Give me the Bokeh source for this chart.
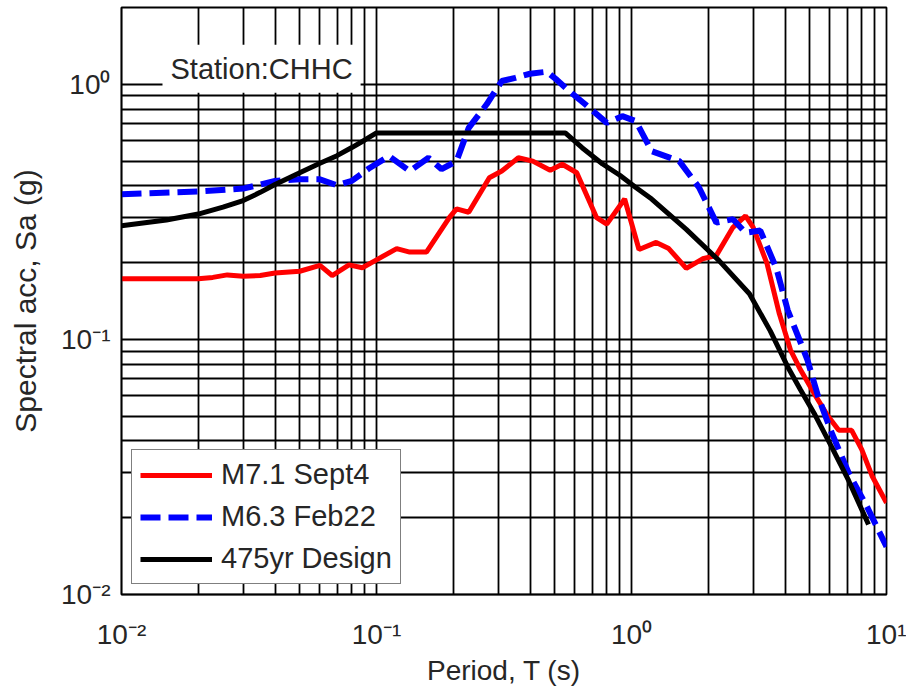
from bokeh.plotting import figure
from bokeh.models import (FixedTicker, CustomJSTickFormatter, Label, Legend,
                          LegendItem, Range1d)
from bokeh.embed import file_html
from bokeh.resources import INLINE

# ---- data ----
T_sept4 = [0.01, 0.02, 0.0228, 0.026, 0.03, 0.035, 0.04, 0.05, 0.06, 0.067, 0.078,
           0.088, 0.1, 0.12, 0.135, 0.157, 0.193, 0.206, 0.23, 0.277, 0.31, 0.36,
           0.41, 0.48, 0.535, 0.61, 0.73, 0.8, 0.94, 1.07, 1.25, 1.4, 1.64, 1.9,
           2.15, 2.5, 2.8, 3.0, 3.4, 3.8, 4.2, 4.6, 5.3, 5.9, 6.5, 7.3, 8.0, 8.8, 10.0]
Sa_sept4 = [0.173, 0.173, 0.175, 0.179, 0.177, 0.178, 0.182, 0.185, 0.195, 0.178, 0.196,
            0.191, 0.205, 0.227, 0.22, 0.22, 0.30, 0.325, 0.315, 0.43, 0.457, 0.515,
            0.50, 0.46, 0.486, 0.45, 0.30, 0.283, 0.355, 0.225, 0.24, 0.227, 0.19, 0.207,
            0.213, 0.275, 0.305, 0.275, 0.198, 0.126, 0.091, 0.076, 0.0595, 0.05, 0.044,
            0.044, 0.037, 0.029, 0.0229]

T_feb22 = [0.01, 0.02, 0.03, 0.04, 0.05, 0.06, 0.07, 0.08, 0.094, 0.112, 0.135, 0.16,
           0.18, 0.206, 0.23, 0.27, 0.31, 0.35, 0.4, 0.465, 0.51, 0.57, 0.66, 0.8, 0.92,
           1.04, 1.2, 1.54, 1.84, 2.15, 2.5, 2.8, 3.2, 3.7, 4.1, 4.9, 5.4, 6.1, 7.1, 8.4, 10.0]
Sa_feb22 = [0.371, 0.38, 0.39, 0.418, 0.424, 0.424, 0.402, 0.418, 0.47, 0.523, 0.457, 0.515,
            0.465, 0.50, 0.675, 0.833, 1.03, 1.06, 1.10, 1.12, 1.04, 0.94, 0.833, 0.706, 0.75,
            0.717, 0.547, 0.50, 0.394, 0.287, 0.296, 0.262, 0.267, 0.19, 0.13, 0.083, 0.0595,
            0.043, 0.030, 0.022, 0.0154]

T_design = [0.01, 0.015, 0.02, 0.025, 0.03, 0.035, 0.04, 0.05, 0.06, 0.07, 0.08, 0.09, 0.1,
            0.55, 0.64, 0.77, 0.9, 1.04, 1.2, 1.64, 2.2, 2.9, 3.5, 4.1, 4.6, 5.2, 6.1, 7.1, 8.5]
Sa_design = [0.279, 0.294, 0.31, 0.33, 0.35, 0.377, 0.405, 0.45, 0.49, 0.525, 0.565, 0.605,
             0.645, 0.645, 0.564, 0.487, 0.44, 0.394, 0.355, 0.27, 0.204, 0.151, 0.108,
             0.078, 0.0635, 0.0514, 0.0378, 0.028, 0.0188]

series_names = ["M7.1 Sept4", "M6.3 Feb22", "475yr Design"]
station_text = "Station:CHHC"
x_label = "Period, T (s)"
y_label = "Spectral acc, Sa (g)"

FONT = "Liberation Sans"
TXT = "#262626"

p = figure(frame_width=765, frame_height=587,
           x_axis_type="log", y_axis_type="log",
           x_range=Range1d(0.01, 10), y_range=Range1d(0.01, 2),
           output_backend="svg", toolbar_location=None,
           min_border_left=121, min_border_right=20, min_border_top=7,
           min_border_bottom=84, background_fill_color="white",
           border_fill_color="white")

x_major = [0.01, 0.1, 1.0, 10.0]
x_minor = [m * d for d in [0.01, 0.1, 1.0] for m in range(2, 10)]
y_major = [0.01, 0.1, 1.0]
y_minor = [m * d for d in [0.01, 0.1, 1.0] for m in range(2, 10)]
xt = FixedTicker(ticks=x_major, minor_ticks=x_minor)
yt = FixedTicker(ticks=y_major, minor_ticks=y_minor)
p.xaxis.ticker = xt
p.yaxis.ticker = yt
p.xgrid.ticker = xt
p.ygrid.ticker = yt

fmt_code = """
const sup = {"-": "\u207b", "0": "\u2070", "1": "\u00b9", "2": "\u00b2", "3": "\u00b3",
             "4": "\u2074", "5": "\u2075", "6": "\u2076", "7": "\u2077", "8": "\u2078", "9": "\u2079"};
const e = Math.round(Math.log10(tick));
return "10" + String(e).split("").map(c => sup[c]).join("");
"""
for ax in (p.xaxis[0], p.yaxis[0]):
    ax.formatter = CustomJSTickFormatter(code=fmt_code)
    ax.major_label_text_font = FONT
    ax.major_label_text_font_size = "28px"
    ax.major_label_text_color = TXT
    ax.axis_label_text_font = FONT
    ax.axis_label_text_font_style = "normal"
    ax.axis_label_text_color = TXT
    ax.major_tick_line_color = None
    ax.minor_tick_line_color = None
    ax.axis_line_color = "black"
    ax.axis_line_width = 1.5

p.xaxis.axis_label = x_label
p.xaxis.axis_label_text_font_size = "28px"
p.xaxis.major_label_standoff = 18
p.xaxis.axis_label_standoff = 2
p.yaxis.axis_label = y_label
p.yaxis.axis_label_text_font_size = "30px"
p.yaxis.major_label_standoff = 5
p.yaxis.axis_label_standoff = 16

for g in (p.xgrid[0], p.ygrid[0]):
    g.grid_line_color = "black"
    g.grid_line_width = 1.8
    g.grid_line_alpha = 1.0
    g.minor_grid_line_color = "black"
    g.minor_grid_line_width = 1.8
    g.minor_grid_line_alpha = 1.0

p.outline_line_color = "black"
p.outline_line_width = 1.8
p.outline_line_alpha = 1.0

r1 = p.line(T_sept4, Sa_sept4, line_color="#ff0000", line_width=5)
r2 = p.line(T_feb22, Sa_feb22, line_color="#0000ff", line_width=6, line_dash="20 8")
r3 = p.line(T_design, Sa_design, line_color="black", line_width=5)

station = Label(x=0.01448, y=1.15, text=station_text, text_font=FONT,
                text_font_size="29px", text_color=TXT, text_baseline="middle",
                text_align="left", background_fill_color="white",
                background_fill_alpha=1.0, padding=8)
p.add_layout(station)

legend = Legend(items=[LegendItem(label=series_names[0], renderers=[r1]),
                       LegendItem(label=series_names[1], renderers=[r2]),
                       LegendItem(label=series_names[2], renderers=[r3])],
                location="bottom_left", margin=10, padding=8, spacing=9,
                glyph_width=72, glyph_height=30, label_height=30,
                label_standoff=9, label_text_font=FONT, label_text_font_size="29px",
                label_text_color=TXT, border_line_color="black",
                border_line_width=1.5, background_fill_color="white",
                background_fill_alpha=1.0)
p.add_layout(legend)

open("out.html", "w", encoding="utf-8").write(file_html(p, INLINE, title="Spectral acceleration"))
